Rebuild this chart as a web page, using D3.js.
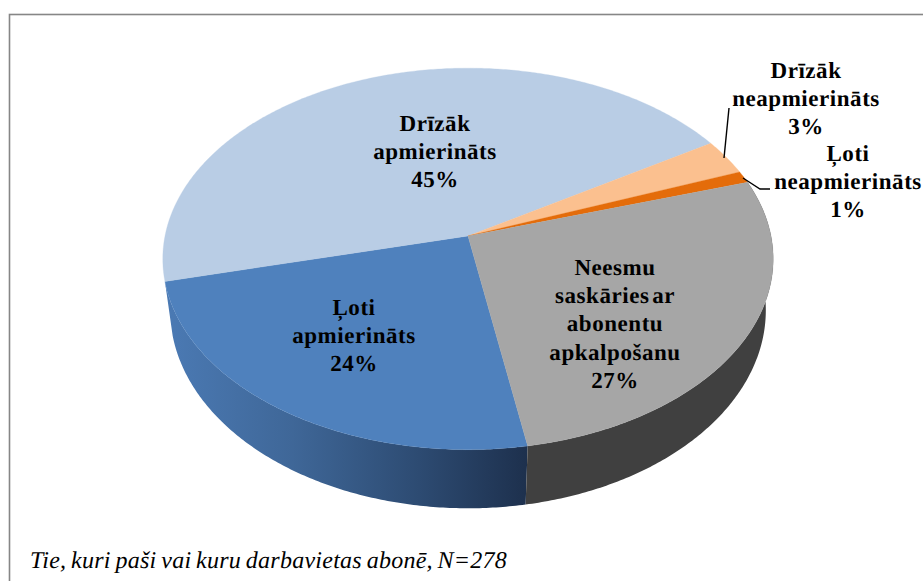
<!DOCTYPE html>
<html lang="lv">
<head>
<meta charset="utf-8">
<script src="https://cdn.jsdelivr.net/npm/d3@7/dist/d3.min.js"></script>
<style>
html,body{margin:0;padding:0;background:#fff;overflow:hidden}
svg{display:block}
text{font-family:"Liberation Serif","Times New Roman",serif;fill:#000;text-rendering:geometricPrecision}
</style>
</head>
<body>
<svg id="chart" width="923" height="581"></svg>
<script>
const categories = ["Ļoti apmierināts","Drīzāk apmierināts","Drīzāk neapmierināts","Ļoti neapmierināts","Neesmu saskāries ar abonentu apkalpošanu"];
const values = [24,45,3,1,27];
const labelLines = [
  ["Ļoti","apmierināts","24%"],
  ["Drīzāk","apmierināts","45%"],
  ["Drīzāk","neapmierināts","3%"],
  ["Ļoti","neapmierināts","1%"],
  ["Neesmu","saskāries ar","abonentu","apkalpošanu","27%"]
];
const note = "Tie, kuri paši vai kuru darbavietas abonē, N=278";

// layout (not data)
const topColors = ["#4F81BD","#B9CDE5","#FBC08F","#E46C0A","#A6A6A6"];
const labelPos = [[354,315],[435,131],[806,78],[848,161],[615,275]];
const lineH = 28.2;
const topRim = {cx:468, cy:236, a:303, b:188, k:0.12};
const botRim = {cx:468, cy:288.5, a:296, b:195.6, k:0.11};

const project = (p, t) => {
  const u = Math.sin(t), v = -Math.cos(t), w = 1 - p.k*v;
  return [p.cx + p.a*u/w, p.cy + p.b*v/w];
};
const sample = (t0,t1) => {
  const n = Math.max(2, Math.ceil(Math.abs(t1-t0)/0.01));
  return d3.range(n+1).map(i => t0 + (t1-t0)*i/n);
};

const rad = Math.PI/180;
const pie = d3.pie().sort(null).startAngle(170*rad).endAngle(530*rad);
const arcs = pie(values);
const line = d3.line();
const svg = d3.select("#chart");

const defs = svg.append("defs");
const grad = defs.append("linearGradient").attr("id","blueSide")
  .attr("gradientUnits","userSpaceOnUse").attr("x1",165).attr("x2",528).attr("y1",0).attr("y2",0);
[[0,"#4B7AB4"],[0.35,"#3F6798"],[0.7,"#2D4B72"],[1,"#1D304D"]].forEach(s=>grad.append("stop").attr("offset",s[0]).attr("stop-color",s[1]));

// chart frame runs past the right and bottom of the picture
svg.append("rect").attr("x",9.5).attr("y",14.5).attr("width",1000).attr("height",700)
  .attr("fill","#fff").attr("stroke","#868686").attr("stroke-width",1.6);

// side walls: blue and grey slices face the viewer
const sides = [
  {t0:arcs[0].startAngle, t1:arcs[0].endAngle, fill:"url(#blueSide)"},
  {t0:arcs[4].startAngle, t1:arcs[4].endAngle, fill:"#404040"}
];
svg.selectAll("path.side").data(sides).join("path").attr("class","side")
  .attr("fill",d=>d.fill)
  .attr("d",d=>{
    const ts = sample(d.t0,d.t1);
    return line(ts.map(t=>project(topRim,t)).concat(ts.slice().reverse().map(t=>project(botRim,t))))+"Z";
  });

// top face
svg.selectAll("path.slice").data(arcs).join("path").attr("class","slice")
  .attr("fill",(d,i)=>topColors[i])
  .attr("stroke",(d,i)=>topColors[i]).attr("stroke-width",0.3)
  .attr("d",d=>line([[topRim.cx,topRim.cy]].concat(sample(d.startAngle,d.endAngle).map(t=>project(topRim,t))))+"Z");

// leader lines
const leaders = [
  [[729,108],[724,158]],
  [[743,178],[760,189],[770,189]]
];
svg.selectAll("path.leader").data(leaders).join("path").attr("class","leader")
  .attr("fill","none").attr("stroke","#000").attr("stroke-width",1.4)
  .attr("d",d=>line(d));

// labels
const lab = svg.selectAll("g.label").data(labelLines).join("g").attr("class","label")
  .attr("transform",(d,i)=>`translate(${labelPos[i][0]},${labelPos[i][1]})`);
lab.selectAll("text").data(d=>d).join("text")
  .attr("y",(d,i)=>i*lineH)
  .attr("text-anchor","middle")
  .attr("font-weight","bold")
  .attr("font-size",23)
  .attr("letter-spacing",0.55)
  .attr("word-spacing",-3.5)
  .text(d=>d);

svg.append("text").attr("x",30).attr("y",568)
  .attr("font-style","italic").attr("font-size",24)
  .attr("letter-spacing",0.25).attr("word-spacing",-1.5)
  .text(note);
</script>
</body>
</html>
